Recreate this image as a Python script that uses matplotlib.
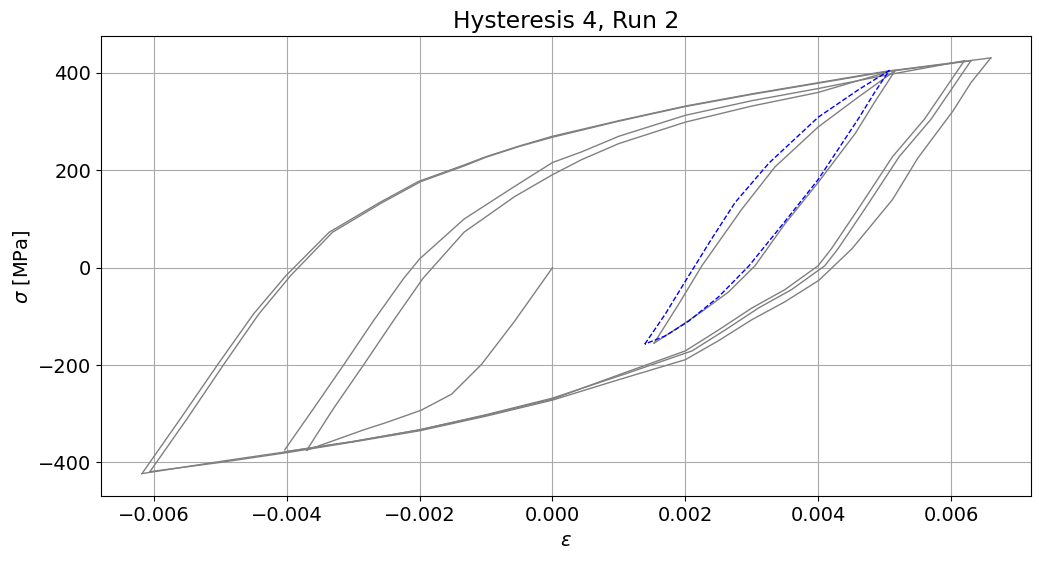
import matplotlib.pyplot as plt

# branches: strain [-], stress [MPa]
init_e = [0.0, -0.00057, -0.00107, -0.00152, -0.00198, -0.0025, -0.00284, -0.0037]
init_s = [0, -110, -199, -260, -293, -318, -333, -375]

inner_a_e = [-0.0037, -0.0033, -0.00284, -0.0024, -0.00195, -0.00133, -0.00057, 0.0,
             0.00044, 0.001, 0.002, 0.003, 0.004, 0.00512]
inner_a_s = [-375, -290, -199, -110, -22, 73, 146, 191, 222, 255, 299, 332, 360, 405]

inner_b_e = [-0.00403, -0.0036, -0.00314, -0.0027, -0.00224, -0.002, -0.00133, -0.00057,
             0.0, 0.00044, 0.001, 0.002, 0.003, 0.004, 0.005, 0.0062]
inner_b_s = [-374, -290, -199, -110, -22, 18, 100, 167, 216, 238, 270, 313, 343, 368, 395, 425]

up1_e = [-0.00618, -0.0056, -0.00504, -0.0045, -0.00401, -0.00336, -0.0026, -0.00202,
         -0.00135, -0.001, -0.0005, 0.0, 0.001, 0.002, 0.003, 0.004, 0.005, 0.0066]
up1_s = [-423, -310, -199, -95, -16, 73, 134, 177, 210, 228, 250, 270, 302, 332, 357, 380,
         403, 431]
up2_e = [-0.00606, -0.0055, -0.00495, -0.00442, -0.00394, -0.00331, -0.00256, -0.00198,
         -0.00131, -0.001, -0.0005, 0.0, 0.001, 0.002, 0.003, 0.004, 0.005, 0.0063]
up2_s = [-419, -310, -199, -95, -16, 73, 134, 177, 210, 227, 249, 268, 301, 331, 356, 379,
         402, 425]

down1_e = [0.0066, 0.0063, 0.00603, 0.0055, 0.00512, 0.00451, 0.00401, 0.0035, 0.003,
           0.0025, 0.002, 0.001, 0.0, -0.001, -0.002, -0.003, -0.004, -0.005, -0.00606]
down1_s = [431, 380, 322, 225, 140, 39, -26, -70, -107, -150, -189, -230, -272, -305,
           -335, -358, -380, -400, -419]
down2_e = [0.0062, 0.0059, 0.0056, 0.00512, 0.0046, 0.0042, 0.004, 0.0035, 0.003, 0.0025,
           0.002, 0.001, 0.0, -0.001, -0.002, -0.003, -0.004, -0.005, -0.00618]
down2_s = [425, 365, 305, 228, 120, 39, 4, -45, -83, -128, -171, -220, -270, -303, -333,
           -357, -378, -398, -423]
down3_e = [0.0063, 0.006, 0.0057, 0.00522, 0.0047, 0.0043, 0.0041, 0.0036, 0.0031, 0.0026,
           0.0021, 0.0011, 0.0, -0.001, -0.002, -0.003, -0.00403]
down3_s = [425, 365, 305, 228, 120, 39, 4, -45, -83, -128, -171, -218, -268, -302, -333,
           -357, -378]

loop_dn_e = [0.00516, 0.00485, 0.00456, 0.004, 0.0035, 0.00305, 0.00265, 0.00225, 0.00185, 0.00153]
loop_dn_s = [405, 340, 276, 175, 90, 4, -50, -90, -127, -155]
loop_up_e = [0.00153, 0.0019, 0.00225, 0.00285, 0.00335, 0.004, 0.0046, 0.00516]
loop_up_s = [-155, -75, 4, 120, 207, 289, 350, 405]

blue_e = [0.00139, 0.0017, 0.002, 0.0024, 0.00275, 0.00326, 0.004, 0.0046, 0.00507,
          0.00485, 0.00462, 0.004, 0.0035, 0.00296, 0.0025, 0.00205, 0.0017, 0.00139]
blue_s = [-157, -95, -28, 60, 134, 215, 309, 365, 405, 360, 309, 181, 95, 4, -60, -110,
          -140, -157]

plt.rcParams["font.size"] = 14
fig, ax = plt.subplots(figsize=(10.39, 5.61), dpi=100)

gray_branches = [
    (init_e, init_s), (inner_a_e, inner_a_s), (inner_b_e, inner_b_s),
    (up1_e, up1_s), (up2_e, up2_s), (down1_e, down1_s), (down2_e, down2_s),
    (down3_e, down3_s), (loop_dn_e, loop_dn_s), (loop_up_e, loop_up_s),
]
for e, s in gray_branches:
    ax.plot(e, s, color="gray", lw=1)
ax.plot(blue_e, blue_s, color="blue", lw=1, linestyle="--")

ax.grid(True, color="#aaaaaa")
ax.set_axisbelow(True)
ax.set_xlim(-0.0068, 0.0072)
ax.set_ylim(-470, 475)
ax.set_xlabel(r"$\epsilon$")
ax.set_ylabel(r"$\sigma$ [MPa]")
ax.set_title("Hysteresis 4, Run 2")
fig.subplots_adjust(left=0.097, right=0.992, top=0.935, bottom=0.115)
fig.savefig("out.png")
